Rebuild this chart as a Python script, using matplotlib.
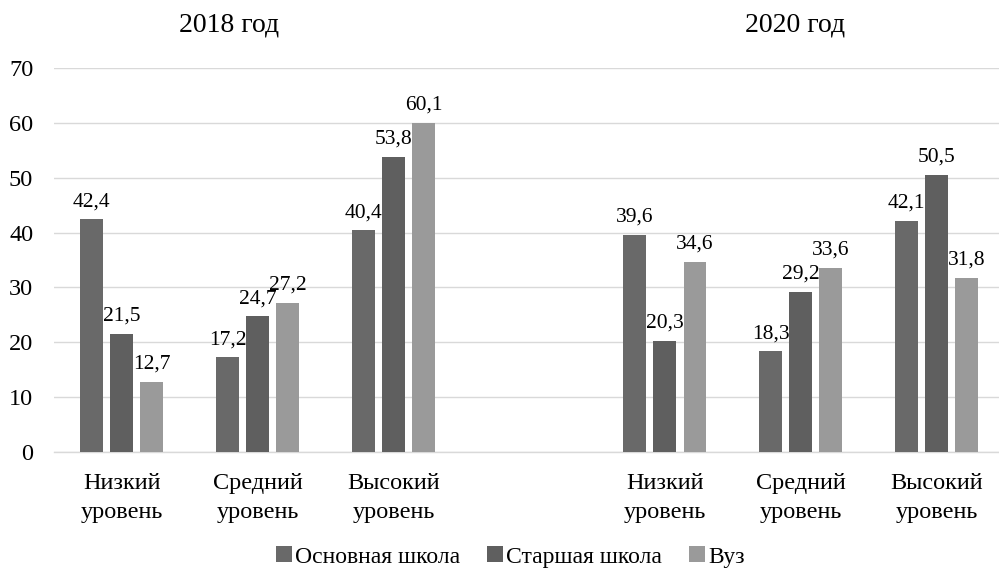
#!/usr/bin/env python3
"""Grouped bars: levels by school stage, 2018 vs 2020."""

import matplotlib
matplotlib.use("Agg")
import matplotlib.pyplot as plt
import numpy as np

plt.rcParams["font.family"] = ["Liberation Serif", "DejaVu Serif"]

YEARS = ["2018 год", "2020 год"]
LEVELS = ["Низкий\nуровень", "Средний\nуровень", "Высокий\nуровень"]
SERIES = ["Основная школа", "Старшая школа", "Вуз"]
COLORS = ["#696969", "#5f5f5f", "#9a9a9a"]

BASIC_2018 = [42.4, 17.2, 40.4]
SENIOR_2018 = [21.5, 24.7, 53.8]
UNI_2018 = [12.7, 27.2, 60.1]
BASIC_2020 = [39.6, 18.3, 42.1]
SENIOR_2020 = [20.3, 29.2, 50.5]
UNI_2020 = [34.6, 33.6, 31.8]


def fmt(v: float) -> str:
    return f"{v:.1f}".replace(".", ",")


def main() -> None:
    fig = plt.figure(figsize=(9.99, 5.70), dpi=100)
    ax = fig.add_axes([54 / 999, 1 - 451.7 / 570, (1004.4 - 54) / 999, (451.7 - 68.3) / 570])

    positions = np.array([0, 1, 2, 4, 5, 6])
    values = [
        BASIC_2018 + BASIC_2020,
        SENIOR_2018 + SENIOR_2020,
        UNI_2018 + UNI_2020,
    ]
    width = 0.169
    step = 0.221
    handles = []
    for i, (name, color, vals) in enumerate(zip(SERIES, COLORS, values)):
        xs = positions + (i - 1) * step
        bars = ax.bar(xs, vals, width=width, color=color, label=name, zorder=3)
        handles.append(bars)
        for x, v in zip(xs, vals):
            ax.annotate(fmt(v), (x, v), xytext=(0, 9.5), textcoords="offset points",
                        ha="center", va="baseline", fontsize=15.5, color="#000000", zorder=4)

    ax.set_xlim(-0.5, 6.5)
    ax.set_ylim(0, 70)
    ax.set_yticks(range(0, 71, 10))
    ax.set_xticks(positions)
    ax.set_xticklabels(LEVELS * 2, fontsize=17.5, linespacing=1.5)
    ax.tick_params(axis="y", labelsize=17.5, length=0, pad=15)
    ax.tick_params(axis="x", length=0, pad=15.5)
    ax.grid(axis="y", color="#d9d9d9", linewidth=1.0, zorder=0)
    for side in ("top", "right", "left"):
        ax.spines[side].set_visible(False)
    ax.spines["bottom"].set_color("#d9d9d9")
    ax.spines["bottom"].set_linewidth(1.0)

    fig.text(229 / 999, 1 - 25 / 570, YEARS[0], ha="center", va="center", fontsize=20)
    fig.text(795 / 999, 1 - 25 / 570, YEARS[1], ha="center", va="center", fontsize=20)

    fig.legend(handles, SERIES, loc="center", bbox_to_anchor=(0.511, 1 - 557 / 570), ncol=3,
               frameon=False, fontsize=17, handlelength=0.65, handleheight=0.65,
               handletextpad=0.15, columnspacing=1.15)

    fig.savefig("out.png", dpi=100)
    plt.close(fig)


if __name__ == "__main__":
    main()
